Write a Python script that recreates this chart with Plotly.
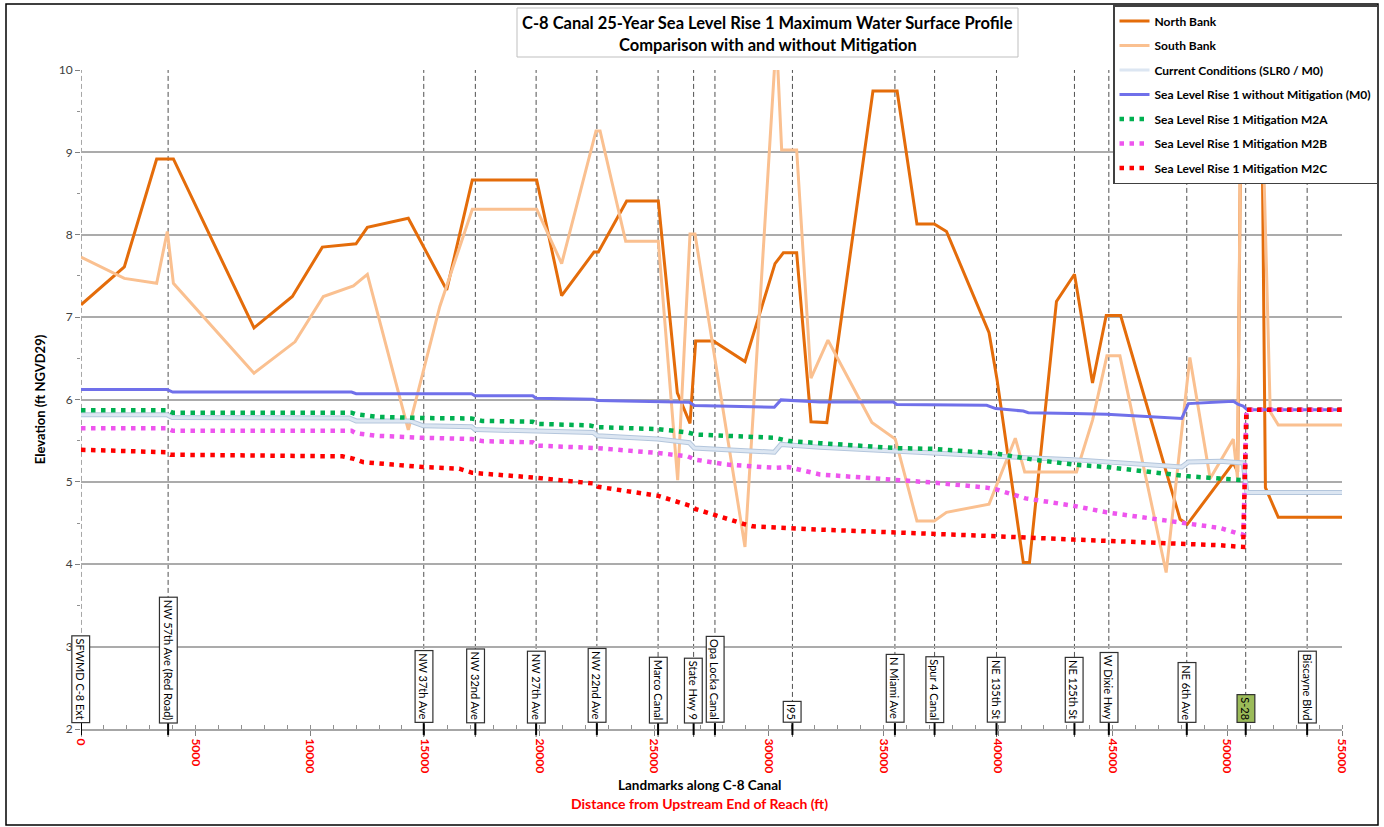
import plotly.graph_objects as go

# ---------------- data ----------------
nb_x = [0, 1890, 3300, 4030, 7546, 9218, 10526, 11995, 12490, 14276, 15950, 17067, 19875, 20965,
        22375, 22565, 23800, 25180, 26010, 26563, 26810, 27580, 28960, 30270, 30634, 31215, 31840,
        32530, 34542, 35596, 36460, 37215, 37750, 39605, 39950, 41100, 41370, 42546, 43332, 44118,
        44716, 45345, 47939, 48254, 50260, 50450, 50620, 51470, 51660, 52220, 55000]
nb_y = [7.15, 7.61, 8.92, 8.92, 6.87, 7.25, 7.85, 7.89, 8.09, 8.20, 7.33, 8.665, 8.665, 7.26,
        7.79, 7.79, 8.41, 8.41, 6.08, 5.71, 6.71, 6.71, 6.46, 7.65, 7.78, 7.78, 5.73,
        5.72, 9.745, 9.745, 8.13, 8.13, 8.04, 6.81, 6.25, 4.02, 4.02, 7.19, 7.52, 6.20,
        7.02, 7.02, 4.545, 4.485, 5.23, 5.12, 10.6, 10.6, 4.93, 4.57, 4.57]

sb_x = [0, 1890, 3300, 3765, 4030, 7546, 9334, 10570, 11880, 12490, 14276, 15650, 17067, 19875,
        20965, 22463, 22640, 23757, 25180, 26025, 26563, 26780, 28960, 30330, 30560, 31215, 31840,
        32580, 34495, 35517, 36460, 37215, 37750, 39605, 40750, 41160, 43420, 44120, 44747, 45313,
        47330, 48364, 49250, 50260, 50440, 50620, 51420, 51870, 52220, 55000]
sb_y = [7.73, 7.47, 7.41, 8.04, 7.41, 6.32, 6.70, 7.25, 7.38, 7.52, 5.63, 7.13, 8.31, 8.31,
        7.65, 9.26, 9.26, 7.92, 7.92, 5.02, 8.01, 8.01, 4.21, 10.4, 9.03, 9.03, 6.26,
        6.72, 5.72, 5.52, 4.525, 4.525, 4.63, 4.73, 5.53, 5.12, 5.12, 5.75, 6.53, 6.53,
        3.90, 6.51, 5.04, 5.52, 5.05, 10.6, 10.6, 5.85, 5.69, 5.69]

cc_x = [0, 3750, 3980, 11700, 12000, 14350, 14930, 17037, 17185, 19845, 22345, 22533, 25150,
        26533, 26750, 30240, 30530, 32232, 35577, 39895, 43280, 48009, 48300, 49680, 50690,
        50848, 55000]
cc_y = [5.815, 5.815, 5.78, 5.775, 5.74, 5.74, 5.68, 5.67, 5.635, 5.615, 5.60, 5.56, 5.52,
        5.475, 5.41, 5.36, 5.455, 5.42, 5.37, 5.31, 5.27, 5.18, 5.24, 5.25, 5.23,
        4.87, 4.87]

m0_x = [0, 3750, 4000, 11800, 12000, 17037, 17185, 19700, 19845, 22345, 22533, 25150, 26533,
        26750, 30240, 30530, 32232, 35432, 35577, 39504, 39895, 41100, 41318, 43280, 44735,
        48009, 48300, 50260, 50480, 50690, 50865, 55000]
m0_y = [6.12, 6.12, 6.09, 6.09, 6.07, 6.07, 6.045, 6.045, 6.015, 6.003, 5.987, 5.975, 5.967,
        5.926, 5.906, 5.995, 5.97, 5.97, 5.94, 5.93, 5.89, 5.86, 5.84, 5.83, 5.82,
        5.77, 5.95, 5.98, 5.94, 5.92, 5.875, 5.875]

m2a_x = [0, 3750, 4000, 11800, 12000, 12900, 14900, 17037, 17500, 19700, 19875, 22200, 22500,
         25180, 26460, 26800, 30270, 30900, 32232, 35577, 37249, 39895, 41540, 43280, 44735,
         48220, 49680, 50550, 50760, 50850, 55000]
m2a_y = [5.87, 5.87, 5.84, 5.84, 5.82, 5.79, 5.775, 5.77, 5.74, 5.73, 5.705, 5.685, 5.665,
         5.64, 5.60, 5.575, 5.535, 5.495, 5.47, 5.41, 5.40, 5.345, 5.27, 5.21, 5.18,
         5.07, 5.04, 5.03, 5.02, 5.875, 5.875]

m2b_x = [0, 3750, 4000, 11800, 12000, 12900, 14900, 17037, 17500, 19700, 19900, 22500, 25180,
         26460, 26800, 28150, 30270, 30850, 32232, 35577, 37249, 39500, 39895, 41200, 43280,
         44735, 48220, 49680, 50400, 50700, 50830, 55000]
m2b_y = [5.65, 5.65, 5.62, 5.62, 5.59, 5.56, 5.535, 5.52, 5.495, 5.48, 5.44, 5.41, 5.35,
         5.31, 5.27, 5.21, 5.17, 5.18, 5.09, 5.03, 4.99, 4.93, 4.91, 4.80, 4.71,
         4.63, 4.505, 4.44, 4.38, 4.36, 5.875, 5.875]

m2c_x = [0, 3700, 3900, 11400, 11900, 12300, 13600, 14900, 16500, 17067, 19875, 22375, 22565,
         25180, 26563, 26810, 28960, 29300, 32232, 35577, 39895, 43280, 48220, 49680, 50690,
         50830, 55000]
m2c_y = [5.39, 5.36, 5.33, 5.31, 5.28, 5.24, 5.21, 5.18, 5.16, 5.11, 5.05, 4.98, 4.94,
         4.83, 4.71, 4.67, 4.485, 4.46, 4.42, 4.39, 4.34, 4.30, 4.25, 4.23, 4.21,
         5.875, 5.875]

landmark_x = [0, 3800, 14950, 17200, 19850, 22500, 25170, 26720, 27650, 31030, 35500, 37230,
              39930, 43330, 44830, 48230, 50800, 53480]
landmark_names = ["SFWMD C-8 Ext", "NW 57th Ave (Red Road)", "NW 37th Ave", "NW 32nd Ave",
                  "NW 27th Ave", "NW 22nd Ave", "Marco Canal", "State Hwy 9", "Opa Locka Canal",
                  "I95", "N Miami Ave", "Spur 4 Canal", "NE 135th St", "NE 125th St",
                  "W Dixie Hwy", "NE 6th Ave", "S-28", "Biscayne Blvd"]
highlight_landmark = "S-28"

x_ticks = [0, 5000, 10000, 15000, 20000, 25000, 30000, 35000, 40000, 45000, 50000, 55000]
y_ticks = [2, 3, 4, 5, 6, 7, 8, 9, 10]

title_lines = ["C-8 Canal 25-Year Sea Level Rise 1 Maximum Water Surface Profile",
               "Comparison with and without Mitigation"]

# ---------------- figure ----------------
W, H = 1384, 827
L, R, T, B = 81, 1342, 70, 729
FONT = "Lato, 'Open Sans', sans-serif"


def px_x(p):
    return (p - L) / (R - L)


def px_y(p):
    return (B - p) / (B - T)


fig = go.Figure()

fig.add_trace(go.Scatter(x=nb_x, y=nb_y, mode="lines", name="North Bank",
                         legendgroup="g1", line=dict(color="#E46C0A", width=3)))
fig.add_trace(go.Scatter(x=sb_x, y=sb_y, mode="lines", name="South Bank",
                         legendgroup="g2", line=dict(color="#FAC090", width=3)))
fig.add_trace(go.Scatter(x=cc_x, y=cc_y, mode="lines", name="Current Conditions (SLR0 / M0)",
                         legendgroup="g3", showlegend=False,
                         line=dict(color="#B4C6DC", width=5)))
fig.add_trace(go.Scatter(x=cc_x, y=cc_y, mode="lines", name="Current Conditions (SLR0 / M0)",
                         legendgroup="g3", line=dict(color="#DCE6F2", width=3)))
fig.add_trace(go.Scatter(x=m0_x, y=m0_y, mode="lines",
                         name="Sea Level Rise 1 without Mitigation (M0)",
                         legendgroup="g4", line=dict(color="#7070EA", width=3)))
dot = "4.5px,5.5px"
fig.add_trace(go.Scatter(x=m2a_x, y=m2a_y, mode="lines", name="Sea Level Rise 1 Mitigation M2A",
                         legendgroup="g5", line=dict(color="#00B050", width=4.5, dash=dot)))
fig.add_trace(go.Scatter(x=m2b_x, y=m2b_y, mode="lines", name="Sea Level Rise 1 Mitigation M2B",
                         legendgroup="g6", line=dict(color="#EE55EE", width=4.5, dash=dot)))
fig.add_trace(go.Scatter(x=m2c_x, y=m2c_y, mode="lines", name="Sea Level Rise 1 Mitigation M2C",
                         legendgroup="g7", line=dict(color="#FF0000", width=4.5, dash=dot)))

shapes = []
annotations = []

# landmark vertical lines, axis marks and labels
for lx, name in zip(landmark_x, landmark_names):
    shapes.append(dict(type="line", xref="x", yref="paper", x0=lx, x1=lx, y0=-0.012, y1=1,
                       line=dict(color="#505050", width=1, dash="5px,3px"), layer="below"))
    shapes.append(dict(type="line", xref="x", yref="paper", x0=lx, x1=lx, y0=-0.009, y1=0.009,
                       line=dict(color="#000000", width=2), layer="above"))
    annotations.append(dict(x=lx, y=2.07, xref="x", yref="y", text=name, showarrow=False,
                            textangle=90, xanchor="center", yanchor="bottom",
                            font=dict(family=FONT, size=11, color="#000000"),
                            bgcolor="#9BBB59" if name == highlight_landmark else "#FFFFFF",
                            bordercolor="#303030", borderwidth=1.2, borderpad=2))

# title box
shapes.append(dict(type="rect", xref="paper", yref="paper",
                   x0=px_x(517), x1=px_x(1018), y0=px_y(57), y1=px_y(8),
                   line=dict(color="#BFBFBF", width=1), fillcolor="#FFFFFF", layer="above"))
for t, yy in zip(title_lines, [23, 45]):
    annotations.append(dict(x=px_x(768), y=px_y(yy), xref="paper", yref="paper", text=t,
                            showarrow=False, xanchor="center", yanchor="middle",
                            font=dict(family=FONT, size=16.5, color="#000000", weight="bold")))

# outer chart border
shapes.append(dict(type="rect", xref="paper", yref="paper",
                   x0=px_x(6), x1=px_x(1378), y0=px_y(825), y1=px_y(4),
                   line=dict(color="#000000", width=1.5), layer="below"))

# x axis titles
annotations.append(dict(x=px_x(699), y=px_y(785), xref="paper", yref="paper",
                        text="Landmarks along C-8 Canal", showarrow=False,
                        xanchor="center", yanchor="middle",
                        font=dict(family=FONT, size=13.5, color="#000000", weight="bold")))
annotations.append(dict(x=px_x(699), y=px_y(803), xref="paper", yref="paper",
                        text="Distance from Upstream End of Reach (ft)", showarrow=False,
                        xanchor="center", yanchor="middle",
                        font=dict(family=FONT, size=14, color="#FF0000", weight="bold")))

fig.update_layout(
    width=W, height=H,
    margin=dict(l=L, r=W - R, t=T, b=H - B, autoexpand=False),
    paper_bgcolor="#FFFFFF", plot_bgcolor="#FFFFFF",
    font=dict(family=FONT, size=12, color="#000000"),
    showlegend=True,
    legend=dict(xref="container", yref="container", x=1113 / W, y=1 - 5 / H,
                xanchor="left", yanchor="top", bgcolor="#FFFFFF",
                bordercolor="#404040", borderwidth=1.5, traceorder="grouped",
                tracegroupgap=5.5,
                font=dict(family=FONT, size=12, color="#000000", weight="bold")),
    shapes=shapes, annotations=annotations,
    xaxis=dict(range=[0, 55000], tickvals=x_ticks, ticktext=[str(v) for v in x_ticks],
               tickangle=90, showgrid=False, zeroline=False,
               showline=True, linecolor="#A6A6A6", linewidth=2,
               ticks="outside", ticklen=5, tickcolor="#808080",
               tickfont=dict(family=FONT, size=12, color="#FF0000", weight="bold"),
               minor=dict(dtick=1000, tick0=0, ticks="inside", ticklen=4,
                          tickcolor="#909090", showgrid=False)),
    yaxis=dict(range=[2, 10], tickvals=y_ticks, showgrid=True, gridcolor="#ABABAB",
               gridwidth=2, zeroline=False, showline=False,
               ticks="outside", ticklen=5, tickcolor="#808080",
               tickfont=dict(family=FONT, size=12, color="#404040"),
               title=dict(text="Elevation (ft NGVD29)", standoff=10,
                          font=dict(family=FONT, size=13, color="#000000", weight="bold")),
               minor=dict(dtick=0.5, ticks="outside", ticklen=3, tickcolor="#909090",
                          showgrid=False)),
)

fig.write_html("out.html")
